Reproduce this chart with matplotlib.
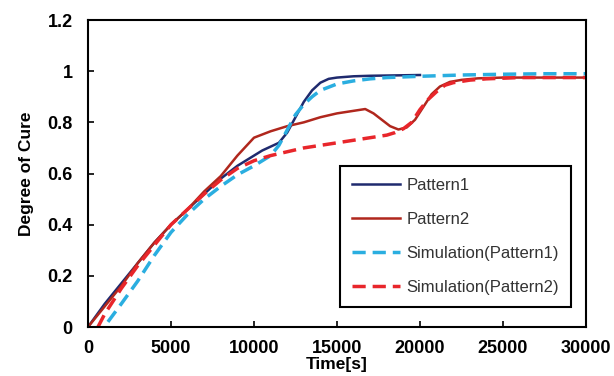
import matplotlib
matplotlib.use("Agg")
import matplotlib.pyplot as plt

plt.rcParams['font.family'] = ['Liberation Sans', 'DejaVu Sans']

# Data
t_p1 = [0, 1000, 2000, 3000, 4000, 5000, 6000, 7000, 8000, 9000, 10000, 10500,
        11000, 11500, 12000, 12500, 13000, 13500, 14000, 14500, 15000, 16000,
        17000, 18000, 19000, 20000]
cure_p1 = [0, 0.09, 0.17, 0.25, 0.33, 0.40, 0.46, 0.52, 0.58, 0.63, 0.67, 0.69,
           0.705, 0.72, 0.76, 0.82, 0.88, 0.925, 0.955, 0.97, 0.975, 0.98,
           0.982, 0.983, 0.984, 0.985]

t_p2 = [0, 1000, 2000, 3000, 4000, 5000, 6000, 7000, 8000, 9000, 10000, 11000,
        12000, 13000, 14000, 15000, 16000, 16700, 17200, 17700, 18200, 18700,
        19200, 19700, 20200, 20700, 21200, 21800, 22500, 23500, 25000, 27500, 30000]
cure_p2 = [0, 0.08, 0.16, 0.25, 0.33, 0.40, 0.46, 0.53, 0.59, 0.67, 0.74, 0.765,
           0.785, 0.80, 0.82, 0.835, 0.845, 0.852, 0.835, 0.81, 0.785, 0.772,
           0.78, 0.81, 0.86, 0.91, 0.94, 0.958, 0.966, 0.972, 0.975, 0.975, 0.975]

t_s1 = [1200, 2000, 3000, 4000, 5000, 6000, 7000, 8000, 9000, 10000, 11000,
        11500, 12000, 12500, 13000, 13500, 14000, 15000, 16000, 17000, 18000,
        20000, 22500, 25000, 27500, 30000]
cure_s1 = [0.02, 0.09, 0.18, 0.28, 0.37, 0.44, 0.50, 0.55, 0.595, 0.63, 0.67,
           0.71, 0.77, 0.83, 0.87, 0.90, 0.925, 0.95, 0.962, 0.97, 0.975,
           0.98, 0.985, 0.988, 0.99, 0.99]

t_s2 = [600, 1000, 2000, 3000, 4000, 5000, 6000, 7000, 8000, 9000, 10000, 11000,
        12000, 13000, 14000, 15000, 16000, 17000, 18000, 18500, 19000, 19500,
        20000, 20500, 21000, 21500, 22000, 23000, 24000, 26000, 28000, 30000]
cure_s2 = [0.0, 0.05, 0.15, 0.24, 0.32, 0.40, 0.46, 0.52, 0.575, 0.62, 0.65, 0.67,
           0.685, 0.70, 0.71, 0.72, 0.73, 0.74, 0.75, 0.76, 0.775, 0.80, 0.85,
           0.89, 0.92, 0.945, 0.955, 0.965, 0.97, 0.975, 0.975, 0.975]

fig = plt.figure(figsize=(6.14, 3.76), dpi=100)
ax = fig.add_axes([0.1433, 0.1303, 0.8111, 0.8165])

ax.plot(t_p1, cure_p1, color='#1f2a6e', lw=1.8, label='Pattern1')
ax.plot(t_p2, cure_p2, color='#b0271d', lw=1.8, label='Pattern2')
ax.plot(t_s1, cure_s1, color='#2aaee0', lw=2.5, dashes=(3.8, 2.0),
        label='Simulation(Pattern1)')
ax.plot(t_s2, cure_s2, color='#e8262b', lw=2.5, dashes=(3.8, 2.0),
        label='Simulation(Pattern2)')

ax.set_xlim(0, 30000)
ax.set_ylim(0, 1.2)
ax.set_xticks([0, 5000, 10000, 15000, 20000, 25000, 30000])
ax.set_yticks([0, 0.2, 0.4, 0.6, 0.8, 1.0, 1.2])
ax.set_yticklabels(['0', '0.2', '0.4', '0.6', '0.8', '1', '1.2'])
ax.tick_params(direction='in', length=4, width=1.2, labelsize=13)
ax.tick_params(axis='x', pad=9)
ax.tick_params(axis='y', pad=11)
for lbl in ax.get_xticklabels() + ax.get_yticklabels():
    lbl.set_fontweight('bold')
for sp in ax.spines.values():
    sp.set_linewidth(1.5)

ax.set_xlabel('Time[s]', fontsize=12.5, fontweight='bold', labelpad=0.5)
ax.set_ylabel('Degree of Cure', fontsize=12.5, fontweight='bold', labelpad=10)

leg = ax.legend(loc='upper left', bbox_to_anchor=(0.506, 0.524), borderaxespad=0,
                fontsize=12, handlelength=2.9, labelspacing=1.15,
                fancybox=False, edgecolor='black', framealpha=1,
                borderpad=0.7, handletextpad=0.4)
leg.get_frame().set_linewidth(1.5)
for txt in leg.get_texts():
    txt.set_color('#333333')

fig.savefig('out.png', dpi=100)
